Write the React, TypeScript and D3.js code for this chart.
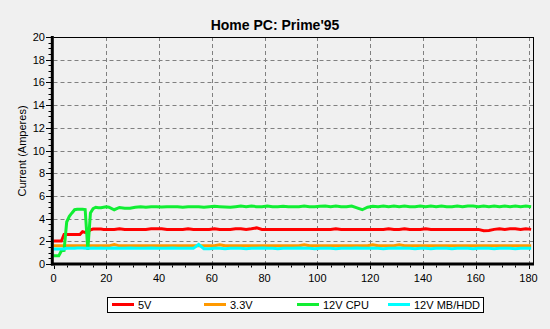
import React from "react";
import * as d3 from "d3";

const seconds: number[] = [
  0, 1, 2, 3, 4, 5, 6, 7, 8, 9, 10, 11, 12, 13, 14, 15, 16, 17, 18, 19, 20,
  21, 23, 25, 27, 29, 31, 33, 35, 37, 39, 41, 43, 45, 47, 49, 51, 53, 55, 57, 59,
  61, 63, 65, 67, 69, 71, 73, 75, 77, 79, 81, 83, 85, 87, 89, 91, 93, 95, 97, 99,
  101, 103, 105, 107, 109, 111, 113, 115, 117, 119, 121, 123, 125, 127, 129, 131, 133, 135, 137, 139,
  141, 143, 145, 147, 149, 151, 153, 155, 157, 159, 161, 163, 165, 167, 169, 171, 173, 175, 177, 179,
  181,
];

const v5: number[] = [
  2.03, 2.03, 2.03, 2.03, 2.6, 2.6, 2.6, 2.6, 2.6, 2.6, 2.6, 2.85, 2.78, 2.85, 3.0, 3.08, 3.08, 3.08, 3.08, 3.05, 3.05,
  3.05, 3.05, 3.1, 3.05, 3.05, 3.05, 3.05, 3.05, 3.1, 3.1, 3.1, 3.05, 3.05, 3.05, 3.05, 3.1, 3.05, 3.05, 3.05, 3.05,
  3.1, 3.05, 3.05, 3.05, 3.1, 3.1, 3.05, 3.1, 3.18, 3.05, 3.05, 3.05, 3.05, 3.05, 3.05, 3.05, 3.05, 3.05, 3.05, 3.05,
  3.05, 3.05, 3.05, 3.1, 3.05, 3.05, 3.05, 3.05, 3.05, 3.05, 3.05, 3.05, 3.05, 3.1, 3.05, 3.05, 3.1, 3.05, 3.05, 3.05,
  3.1, 3.05, 3.05, 3.05, 3.05, 3.05, 3.05, 3.05, 3.05, 3.05, 3.05, 2.93, 2.95, 3.05, 3.1, 3.05, 3.1, 3.1, 3.05, 3.1,
  3.05,
];

const v33: number[] = [
  1.6, 1.6, 1.6, 1.6, 1.6, 1.6, 1.6, 1.6, 1.6, 1.6, 1.6, 1.6, 1.6, 1.6, 1.6, 1.6, 1.6, 1.6, 1.6, 1.6, 1.6,
  1.6, 1.72, 1.6, 1.6, 1.6, 1.6, 1.6, 1.6, 1.6, 1.6, 1.6, 1.6, 1.6, 1.6, 1.6, 1.6, 1.6, 1.6, 1.6, 1.6,
  1.6, 1.7, 1.6, 1.6, 1.6, 1.6, 1.6, 1.6, 1.6, 1.6, 1.6, 1.6, 1.6, 1.6, 1.6, 1.6, 1.6, 1.7, 1.6, 1.6,
  1.6, 1.6, 1.6, 1.6, 1.6, 1.6, 1.6, 1.6, 1.6, 1.6, 1.7, 1.6, 1.6, 1.6, 1.6, 1.7, 1.6, 1.6, 1.6, 1.6,
  1.6, 1.6, 1.6, 1.6, 1.6, 1.6, 1.6, 1.6, 1.6, 1.6, 1.6, 1.6, 1.6, 1.6, 1.6, 1.6, 1.6, 1.6, 1.6, 1.6,
  1.6,
];

const v12cpu: number[] = [
  0.72, 0.72, 0.72, 1.17, 1.2, 3.7, 4.2, 4.5, 4.78, 4.82, 4.82, 4.82, 4.8, 1.25, 4.5, 4.88, 5.0, 4.95, 4.95, 5.0, 5.05,
  5.0, 4.78, 4.98, 4.92, 4.92, 5.0, 5.05, 5.0, 5.05, 5.05, 5.02, 5.05, 5.05, 5.05, 5.0, 5.05, 5.05, 5.05, 5.0, 5.05,
  5.08, 5.05, 5.03, 5.0, 5.05, 5.1, 5.05, 5.1, 5.05, 5.05, 5.1, 5.05, 5.05, 5.08, 5.05, 5.05, 5.05, 5.1, 5.05, 5.05,
  5.08, 5.1, 5.05, 5.1, 5.05, 5.05, 5.1, 4.95, 4.78, 5.0, 5.08, 5.05, 5.1, 5.05, 5.1, 5.05, 5.1, 5.05, 5.05, 5.1,
  5.05, 5.1, 5.05, 5.1, 5.05, 5.05, 5.1, 5.05, 5.1, 5.1, 5.05, 5.1, 5.05, 5.1, 5.05, 5.1, 5.05, 5.1, 5.05, 5.1,
  5.05,
];

const v12mb: number[] = [
  1.33, 1.33, 1.33, 1.33, 1.33, 1.38, 1.38, 1.38, 1.38, 1.4, 1.4, 1.4, 1.38, 1.38, 1.38, 1.4, 1.38, 1.38, 1.4, 1.38, 1.38,
  1.38, 1.4, 1.38, 1.38, 1.4, 1.38, 1.38, 1.38, 1.42, 1.38, 1.38, 1.38, 1.4, 1.38, 1.38, 1.38, 1.38, 1.72, 1.35, 1.35,
  1.38, 1.38, 1.35, 1.38, 1.38, 1.38, 1.35, 1.38, 1.38, 1.4, 1.38, 1.38, 1.35, 1.38, 1.38, 1.38, 1.4, 1.38, 1.38, 1.35,
  1.38, 1.38, 1.38, 1.35, 1.38, 1.38, 1.38, 1.4, 1.38, 1.38, 1.38, 1.38, 1.35, 1.38, 1.38, 1.4, 1.38, 1.38, 1.35, 1.38,
  1.38, 1.35, 1.38, 1.38, 1.38, 1.35, 1.38, 1.38, 1.38, 1.35, 1.38, 1.38, 1.38, 1.35, 1.38, 1.38, 1.38, 1.35, 1.38, 1.38,
  1.38,
];

const seriesNames = ["5V", "3.3V", "12V CPU", "12V MB/HDD"];
const seriesColors = ["#ff0000", "#ff9900", "#11ee33", "#00ffff"];
const seriesValues = [v5, v33, v12cpu, v12mb];

const xTicks = [0, 20, 40, 60, 80, 100, 120, 140, 160, 180];
const yTicks = [0, 2, 4, 6, 8, 10, 12, 14, 16, 18, 20];

const title = "Home PC: Prime'95";
const yTitle = "Current (Amperes)";

const FONT = "'Liberation Sans', Arial, sans-serif";

export default function App() {
  const W = 550, H = 329;
  const left = 53.5, right = 533, top = 37, bottom = 264;
  const x = d3.scaleLinear().domain([0, 181.7]).range([left, right]);
  const y = d3.scaleLinear().domain([0, 20]).range([bottom, top]);

  const xMinor = d3.range(0, 181, 5);
  const yMinor = d3.range(0, 20.01, 0.5);

  const line = d3
    .line<number>()
    .x((_, i) => x(seconds[i]))
    .y((d) => y(d));

  const legendItemsX = [112, 204, 297, 388];

  return (
    <svg
      width={W}
      height={H}
      style={{ position: "absolute", left: 0, top: 0, display: "block" }}
      fontFamily={FONT}
    >
      <rect x={0} y={0} width={W} height={H} fill="#f0f0f0" />
      <text x={275} y={30} textAnchor="middle" fontSize={14} fontWeight="bold" fill="#000">
        {title}
      </text>

      {/* grid */}
      {yTicks.slice(1, -1).map((t) => (
        <line key={"gy" + t} x1={left} x2={right} y1={Math.round(y(t)) + 0.5} y2={Math.round(y(t)) + 0.5}
          stroke="#808080" strokeDasharray="4,3" strokeWidth={1} />
      ))}
      {xTicks.slice(1).map((t) => (
        <line key={"gx" + t} x1={Math.round(x(t)) + 0.5} x2={Math.round(x(t)) + 0.5} y1={top} y2={bottom}
          stroke="#808080" strokeDasharray="4,3" strokeWidth={1} />
      ))}

      {/* frame */}
      <line x1={left} x2={right + 0.5} y1={top + 0.5} y2={top + 0.5} stroke="#000" strokeWidth={1} />
      <line x1={right + 0.5} x2={right + 0.5} y1={top} y2={bottom} stroke="#000" strokeWidth={1} />

      {/* series */}
      {seriesValues.map((vals, si) => (
        <path key={"s" + si} d={line(vals) || ""} fill="none" stroke={seriesColors[si]}
          strokeWidth={3} strokeLinejoin="miter" />
      ))}

      {/* axes */}
      <line x1={52.3} x2={52.3} y1={top - 1} y2={bottom + 1.5} stroke="#000" strokeWidth={3} />
      <line x1={51} x2={right + 1} y1={bottom} y2={bottom} stroke="#000" strokeWidth={3} />

      {/* y ticks */}
      {yMinor.map((t) => (
        <line key={"ym" + t} x1={t % 2 === 0 ? 46 : 48.5} x2={51}
          y1={Math.round(y(t)) + 0.5} y2={Math.round(y(t)) + 0.5} stroke="#000" strokeWidth={1} />
      ))}
      {yTicks.map((t) => (
        <text key={"yl" + t} x={45} y={y(t) + 4} textAnchor="end" fontSize={11} fill="#000">{t}</text>
      ))}

      {/* x ticks */}
      {xMinor.map((t) => (
        <line key={"xm" + t} x1={Math.round(x(t)) + 0.5} x2={Math.round(x(t)) + 0.5}
          y1={bottom + 1.5} y2={bottom + (t % 20 === 0 ? 5 : 3.5)} stroke="#000" strokeWidth={1} />
      ))}
      {xTicks.map((t) => (
        <text key={"xl" + t} x={x(t)} y={282} textAnchor="middle" fontSize={11} fill="#000">{t}</text>
      ))}

      <text transform={`translate(26,151) rotate(-90)`} textAnchor="middle" fontSize={11} fill="#000">
        {yTitle}
      </text>

      {/* legend */}
      <rect x={107.5} y={297.5} width={376} height={15} fill="#ffffff" stroke="#000" strokeWidth={1} />
      {seriesNames.map((n, i) => (
        <g key={"lg" + i}>
          <line x1={legendItemsX[i]} x2={legendItemsX[i] + 22} y1={304.5} y2={304.5}
            stroke={seriesColors[i]} strokeWidth={3} />
          <text x={legendItemsX[i] + 26} y={309} fontSize={11} fill="#000">{n}</text>
        </g>
      ))}
    </svg>
  );
}
